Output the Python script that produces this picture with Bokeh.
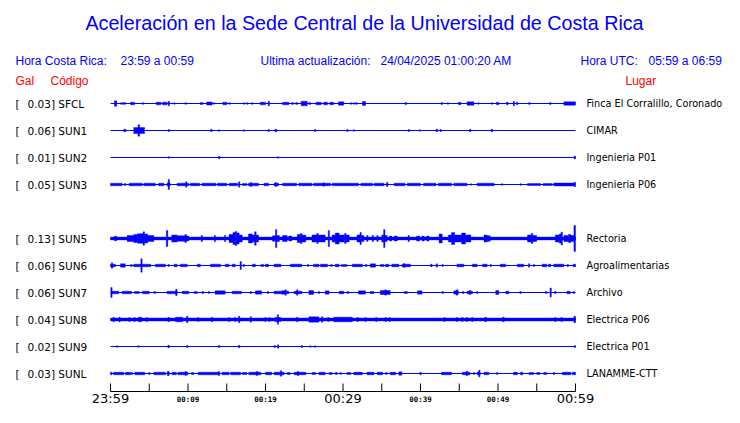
from bokeh.plotting import figure
from bokeh.models import Range1d
from bokeh.core.properties import value
from bokeh.embed import file_html
from bokeh.resources import INLINE

# ---------------- data ----------------
CODES = ["SFCL", "SUN1", "SUN2", "SUN3", "SUN5", "SUN6", "SUN7", "SUN8", "SUN9", "SUNL"]
ROWS = [0, 1, 2, 3, 5, 6, 7, 8, 9, 10]
GAL = [0.03, 0.06, 0.01, 0.05, 0.13, 0.06, 0.06, 0.04, 0.02, 0.03]
PLACES = ["Finca El Corralillo, Coronado", "CIMAR", "Ingenieria P01", "Ingenieria P06",
          "Rectoria", "Agroalimentarias", "Archivo", "Electrica P06", "Electrica P01", "LANAMME-CTT"]

TICK_MINUTES = [0, 5, 10, 15, 20, 25, 30, 35, 40, 45, 50, 55, 60]
BIG_LABELS = {0: "23:59", 30: "00:29", 60: "00:59"}
SMALL_LABELS = {10: "00:09", 20: "00:19", 40: "00:39", 50: "00:49"}

# bursts: (start minute, end minute, relative half amplitude)
SFCL = [(0.5, 0.8, 2.7), (1.3, 2.0, 0.8), (2.6, 3.1, 1.3), (4.1, 4.3, 0.8), (5.9, 6.5, 1.3),
        (6.7, 7.3, 1.3), (7.45, 7.6, 2.3), (8.2, 8.3, 0.8), (9.6, 9.8, 0.8), (11.6, 11.9, 1.0),
        (12.4, 13.1, 1.6), (13.2, 13.4, 0.8), (14.5, 15.0, 1.3), (15.3, 15.4, 0.8), (17.2, 17.3, 0.8),
        (17.6, 17.7, 0.8), (18.2, 18.4, 0.8), (19.3, 20.0, 1.3), (20.35, 20.5, 2.3), (22.2, 23.0, 1.3),
        (23.4, 23.6, 1.0), (23.9, 24.1, 1.0), (24.6, 25.4, 2.3), (25.6, 25.8, 1.0), (26.5, 27.2, 1.3),
        (27.5, 28.0, 1.3), (28.3, 28.8, 1.3), (29.4, 30.1, 1.7), (31.0, 31.1, 0.8), (31.4, 31.5, 0.8),
        (31.7, 31.8, 0.8), (32.5, 32.9, 2.0), (38.0, 38.2, 1.0), (42.7, 42.8, 1.0), (43.5, 43.6, 0.7),
        (44.9, 45.2, 1.3), (46.0, 46.9, 1.7), (47.4, 47.5, 0.7), (49.2, 49.3, 0.8), (49.8, 50.1, 1.3),
        (51.1, 51.3, 1.3), (52.0, 52.1, 2.3), (52.4, 52.5, 1.3), (54.0, 54.1, 1.0), (56.7, 56.8, 1.0),
        (58.5, 60.0, 1.7)]
SUN1 = [(1.7, 2.0, 1.3), (3.0, 4.4, 3.0), (3.55, 3.75, 5.7), (7.45, 7.6, 1.0), (12.95, 13.1, 1.3),
        (13.95, 14.05, 0.7), (17.15, 17.25, 0.7), (20.35, 20.45, 1.0), (21.2, 21.45, 1.3),
        (26.35, 26.45, 1.0), (30.5, 30.65, 1.0), (31.35, 31.45, 0.7), (38.45, 38.55, 1.0),
        (39.85, 39.95, 0.7), (42.0, 42.2, 1.3), (42.55, 42.65, 1.0), (46.35, 46.5, 1.3), (49.1, 49.3, 1.3)]
SUN2 = [(7.45, 7.55, 0.7), (13.95, 14.1, 1.3), (21.55, 21.65, 0.7), (59.85, 60.0, 1.5)]
SUN3 = [(0.0, 1.5, 1.3), (1.8, 2.0, 1.0), (2.4, 4.1, 1.3), (4.3, 5.8, 1.3), (6.2, 6.9, 1.3),
        (7.3, 7.7, 1.6), (7.45, 7.6, 5.0), (8.6, 10.1, 1.3), (9.7, 9.85, 2.7), (10.3, 11.5, 1.3),
        (11.8, 13.6, 1.3), (13.8, 15.0, 1.3), (15.3, 16.4, 1.3), (16.55, 16.65, 2.7), (17.0, 17.6, 1.0),
        (17.8, 19.1, 1.3), (18.05, 18.2, 2.0), (19.8, 20.4, 1.3), (21.1, 21.7, 1.3), (21.25, 21.4, 2.0),
        (22.2, 24.0, 1.3), (24.3, 26.0, 1.3), (26.2, 28.4, 1.3), (27.45, 27.55, 1.7), (28.6, 30.3, 1.3),
        (30.3, 32.0, 1.3), (32.3, 33.8, 1.3), (34.0, 35.3, 1.3), (35.6, 35.8, 2.0), (36.6, 38.0, 1.3),
        (38.3, 40.0, 1.3), (40.4, 42.0, 1.3), (42.3, 44.0, 1.3), (44.3, 46.0, 1.3), (46.5, 46.6, 0.7),
        (47.3, 49.5, 1.3), (50.5, 50.6, 0.8), (52.9, 53.0, 0.8), (53.8, 55.5, 1.0), (55.8, 57.0, 1.0),
        (57.2, 59.9, 1.5), (59.85, 60.0, 2.3)]
SUN5 = [(0.0, 60.0, 1.4), (0.5, 0.8, 2.3), (2.15, 3.0, 3.0), (3.0, 3.5, 4.0), (3.5, 4.2, 4.8),
        (4.2, 4.4, 6.7), (4.4, 4.8, 4.5), (4.8, 5.6, 3.0), (7.2, 7.4, 8.0), (7.9, 8.6, 3.5),
        (8.6, 9.6, 2.8), (9.6, 9.8, 4.0), (9.8, 10.1, 2.5), (11.7, 11.85, 3.0), (13.4, 13.55, 3.0),
        (14.7, 14.85, 3.0), (15.3, 15.8, 4.0), (15.8, 16.1, 6.0), (16.1, 16.3, 7.0), (16.3, 16.6, 5.5),
        (16.6, 17.0, 3.5), (17.8, 18.3, 4.5), (18.3, 18.6, 3.5), (18.6, 18.8, 6.7), (18.8, 19.1, 3.5),
        (20.9, 21.3, 2.8), (21.3, 21.45, 9.0), (21.45, 21.8, 3.0), (22.2, 22.8, 3.0), (23.0, 23.4, 2.5),
        (24.1, 24.5, 4.0), (24.5, 24.7, 5.0), (24.7, 25.2, 3.5), (26.0, 26.6, 3.5), (26.6, 26.8, 5.0),
        (26.8, 27.7, 3.5), (28.1, 28.25, 8.0), (28.6, 29.0, 3.5), (29.0, 29.5, 5.5), (29.5, 30.2, 3.5),
        (30.2, 30.4, 5.0), (30.4, 30.8, 3.5), (31.8, 32.2, 3.5), (32.2, 32.35, 6.0), (32.35, 32.7, 3.0),
        (33.1, 33.2, 3.0), (33.8, 33.9, 3.0), (34.4, 34.5, 3.0), (35.0, 35.25, 3.5), (35.25, 35.4, 9.0),
        (35.4, 35.7, 3.0), (36.0, 36.3, 2.5), (36.6, 37.0, 2.5), (38.4, 38.55, 3.0), (39.5, 39.9, 2.5),
        (40.2, 40.5, 2.5), (40.8, 41.1, 2.5), (42.4, 42.8, 4.5), (43.6, 44.0, 3.5), (44.0, 44.4, 6.0),
        (44.4, 45.3, 3.5), (45.3, 45.8, 5.5), (45.8, 46.5, 3.5), (48.2, 48.6, 3.5), (48.6, 49.0, 2.8),
        (53.8, 54.3, 3.5), (54.3, 54.5, 5.0), (54.5, 55.0, 3.0), (57.4, 57.9, 3.5), (57.9, 58.15, 4.5),
        (58.15, 58.3, 6.5), (58.5, 59.1, 3.0), (59.1, 59.4, 4.0), (59.4, 59.8, 3.0), (59.8, 60.0, 13.0)]
SUN6 = [(0.0, 0.65, 1.3), (0.15, 0.25, 2.7), (1.3, 1.9, 1.7), (2.6, 2.8, 1.0), (3.0, 5.2, 1.3),
        (3.95, 4.05, 6.7), (5.8, 7.1, 1.3), (7.45, 7.55, 1.0), (8.2, 8.6, 1.3), (9.0, 9.9, 1.3),
        (11.2, 11.6, 1.3), (12.9, 14.2, 1.3), (14.8, 15.3, 1.3), (15.7, 16.1, 1.3), (16.75, 16.85, 4.0),
        (17.15, 17.25, 1.0), (18.3, 18.7, 1.3), (19.4, 19.8, 1.0), (20.0, 20.4, 1.3), (21.1, 22.0, 1.3),
        (23.2, 24.7, 1.3), (25.45, 25.55, 1.0), (26.2, 26.9, 1.3), (27.1, 28.0, 1.3), (28.4, 28.6, 1.0),
        (29.0, 29.5, 1.3), (29.8, 30.5, 1.0), (31.2, 32.5, 1.3), (32.9, 33.1, 1.0), (33.5, 34.2, 1.7),
        (34.8, 35.3, 1.0), (35.5, 35.9, 1.3), (36.3, 37.2, 1.3), (37.6, 38.7, 1.3), (37.85, 37.95, 2.0),
        (41.3, 41.5, 1.3), (42.05, 42.15, 1.7), (42.8, 42.9, 1.0), (44.7, 45.6, 1.3), (46.7, 47.3, 1.3),
        (48.0, 48.6, 1.3), (49.0, 49.1, 1.0), (50.3, 50.98, 1.3), (52.5, 53.3, 1.3), (53.95, 54.05, 1.7),
        (54.6, 54.7, 1.0), (55.7, 56.3, 1.3), (56.5, 56.8, 1.3), (57.2, 58.5, 1.3), (58.9, 59.1, 1.0),
        (59.7, 60.0, 1.3)]
SUN7 = [(0.05, 0.2, 5.0), (0.2, 1.07, 1.3), (1.5, 2.7, 1.3), (3.1, 3.7, 1.0), (4.1, 5.0, 1.3),
        (5.6, 5.8, 1.0), (7.3, 8.6, 1.3), (8.45, 8.55, 3.3), (9.25, 10.1, 1.3), (10.8, 11.2, 1.0),
        (11.8, 12.0, 1.0), (12.65, 12.75, 1.0), (13.5, 14.8, 1.7), (15.7, 16.9, 1.3), (18.05, 18.15, 1.0),
        (18.7, 19.5, 1.7), (20.2, 20.4, 1.0), (21.1, 23.0, 1.3), (22.1, 22.6, 1.7), (22.55, 22.65, 2.7),
        (23.7, 24.7, 1.3), (24.05, 24.15, 2.7), (25.6, 26.2, 2.0), (26.85, 26.95, 1.0), (27.7, 28.2, 1.7),
        (29.5, 30.1, 1.3), (30.5, 30.75, 1.0), (32.0, 32.9, 1.7), (33.5, 34.0, 1.0), (34.8, 36.1, 2.0),
        (35.45, 35.55, 2.7), (37.9, 38.3, 1.0), (39.6, 40.2, 1.7), (42.8, 42.9, 1.0), (44.3, 44.9, 1.7),
        (44.65, 44.75, 2.7), (45.4, 45.6, 1.0), (46.0, 46.7, 1.3), (46.35, 46.45, 2.0), (47.25, 47.35, 1.0),
        (49.7, 50.1, 2.0), (51.0, 51.4, 1.3), (52.85, 52.95, 1.0), (56.15, 56.25, 1.0), (56.75, 56.85, 4.5),
        (57.3, 57.5, 1.0), (58.9, 59.3, 1.3), (59.75, 59.85, 1.0)]
SUN8 = [(0.0, 60.0, 1.5), (0.35, 0.45, 2.3), (1.1, 1.25, 2.3), (2.4, 2.5, 2.0), (3.05, 3.15, 2.0),
        (3.6, 4.0, 2.3), (4.65, 4.75, 2.0), (7.45, 7.55, 2.3), (8.4, 9.3, 2.3), (9.85, 9.95, 3.3),
        (11.25, 11.35, 2.0), (13.05, 13.15, 2.3), (15.25, 15.35, 2.0), (16.05, 16.15, 2.0),
        (16.55, 16.65, 3.3), (18.05, 18.15, 2.7), (19.95, 20.05, 2.0), (20.45, 20.55, 2.0),
        (21.2, 22.0, 2.0), (21.55, 21.65, 4.7), (24.05, 24.15, 2.3), (25.6, 26.9, 2.7), (27.25, 27.35, 2.7),
        (28.05, 28.15, 2.0), (28.8, 31.2, 2.3), (31.85, 31.95, 2.0), (32.85, 32.95, 2.0), (34.25, 34.35, 2.0),
        (35.45, 35.55, 2.0), (35.95, 36.05, 2.0), (43.05, 43.15, 2.0), (44.65, 44.75, 2.0),
        (45.35, 45.45, 2.0), (45.95, 46.05, 2.0), (46.65, 46.75, 2.0), (48.3, 48.5, 2.3), (50.6, 50.8, 2.3),
        (57.35, 57.45, 2.0), (58.15, 58.25, 2.0), (59.8, 60.0, 3.3)]
SUN9 = [(0.8, 0.9, 0.7), (3.5, 3.7, 0.7), (7.4, 7.6, 1.3), (9.85, 9.95, 1.0), (13.95, 14.05, 1.0),
        (16.55, 16.65, 1.3), (21.15, 21.25, 1.0), (21.55, 21.7, 1.7), (24.65, 24.75, 1.0),
        (25.75, 25.85, 0.7), (26.35, 26.45, 0.7), (59.85, 60.0, 1.0)]
SUNL = [(0.0, 0.2, 1.3), (0.4, 1.72, 1.3), (1.94, 2.6, 1.3), (2.75, 2.85, 1.0), (3.14, 4.43, 1.3),
        (4.95, 5.05, 1.0), (5.6, 7.1, 1.3), (7.3, 7.6, 1.3), (7.4, 7.5, 2.3), (7.95, 8.5, 1.3),
        (8.7, 10.0, 1.3), (9.65, 9.75, 2.0), (10.45, 10.75, 1.0), (11.3, 14.0, 1.3), (13.95, 14.05, 2.0),
        (14.4, 15.3, 1.3), (15.5, 16.8, 1.3), (17.0, 17.6, 1.0), (17.85, 19.4, 1.3), (18.85, 18.95, 2.0),
        (20.0, 20.8, 1.3), (21.1, 22.4, 1.3), (21.95, 22.05, 2.7), (22.8, 23.2, 1.0), (23.7, 25.2, 1.3),
        (24.15, 24.25, 2.0), (26.0, 26.45, 1.0), (26.9, 27.7, 1.3), (28.2, 28.6, 1.0), (29.0, 29.25, 1.0),
        (29.65, 29.75, 1.0), (30.5, 31.0, 1.0), (31.4, 32.5, 1.3), (33.1, 34.0, 1.3), (34.4, 35.1, 1.3),
        (35.5, 35.7, 1.0), (36.1, 36.8, 1.3), (37.2, 37.6, 1.7), (39.95, 40.05, 1.3), (42.7, 44.0, 1.3),
        (45.4, 46.4, 1.3), (45.95, 46.05, 2.3), (46.85, 46.95, 1.0), (47.3, 47.7, 1.3), (47.55, 47.65, 3.3),
        (48.2, 48.8, 1.3), (49.85, 49.95, 1.0), (52.0, 52.5, 1.3), (52.9, 53.2, 1.3), (54.0, 54.6, 1.0),
        (55.0, 55.4, 1.0), (55.9, 56.3, 1.0), (57.15, 57.25, 1.0), (58.3, 59.4, 1.3), (59.6, 60.0, 1.3)]
BURSTS = [SFCL, SUN1, SUN2, SUN3, SUN5, SUN6, SUN7, SUN8, SUN9, SUNL]

# ---------------- layout ----------------
W, H = 724, 407
X0, PX_MIN = 110.0, 7.75     # px of minute 0, px per minute
Y0, ROW_PX = 103.0, 27.0     # px of first trace, px per row
AMP = 1.0 / ROW_PX           # relative amplitude unit -> rows
MIN_W = 0.17                 # minimum drawn width (minutes)


def tx(px):
    return (px - X0) / PX_MIN


def ty(py):
    return -(py - Y0) / ROW_PX


p = figure(width=W, height=H, output_backend="svg", toolbar_location=None,
           x_range=Range1d(tx(0), tx(W)), y_range=Range1d(ty(H), ty(0)),
           x_axis_location=None, y_axis_location=None, min_border=0)
p.grid.grid_line_color = None
p.outline_line_color = None
p.background_fill_color = "white"
p.border_fill_color = "white"

BLUE = "#0000FF"

# traces
for row, bursts in zip(ROWS, BURSTS):
    yc = -row
    p.line(x=[0, 60], y=[yc, yc], line_color=BLUE, line_width=1.2)
    left, right, bot, top = [], [], [], []
    for t0, t1, a in bursts:
        if t1 - t0 < MIN_W:
            c = (t0 + t1) / 2
            t0, t1 = c - MIN_W / 2, c + MIN_W / 2
        left.append(max(t0, 0))
        right.append(min(t1, 60.05))
        bot.append(yc - a * AMP)
        top.append(yc + a * AMP)
    p.quad(left=left, right=right, bottom=bot, top=top, fill_color=BLUE,
           line_color=BLUE, line_width=0.4)


def txt(x, y, s, size, color, font="Liberation Sans", align="left", baseline="middle",
        style="normal"):
    p.text(x=[tx(x)], y=[ty(y)], text=[s], text_font=value(font), text_font_size=size,
           text_color=color, text_align=align, text_baseline=baseline, text_font_style=style)


# title and headers
txt(364, 22, "Aceleración en la Sede Central de la Universidad de Costa Rica", "19.7px", BLUE,
    align="center")
txt(15, 60, "Hora Costa Rica:", "12px", BLUE)
txt(120, 60, "23:59 a 00:59", "12px", BLUE)
txt(260, 60, "Ultima actualización:", "12px", BLUE)
txt(380, 60, "24/04/2025 01:00:20 AM", "12px", BLUE)
txt(580, 60, "Hora UTC:", "12px", BLUE)
txt(648, 60, "05:59 a 06:59", "12px", BLUE)
txt(15, 80, "Gal", "12px", "#FF0000")
txt(50, 80, "Código", "12px", "#FF0000")
txt(625, 80, "Lugar", "12px", "#FF0000")

# station labels
for row, code, g, place in zip(ROWS, CODES, GAL, PLACES):
    yp = Y0 + row * ROW_PX
    txt(15, yp, "[", "10.5px", "#000000", font="DejaVu Sans")
    txt(27, yp, f"{g:.2f}] {code}", "10.5px", "#000000", font="DejaVu Sans")
    txt(586, yp, place, "9.7px", "#000000", font="DejaVu Sans")

# time axis (squeezed slightly to fit the canvas)
AX_Y = 391
p.line(x=[0, 60], y=[ty(AX_Y), ty(AX_Y)], line_color="#000000", line_width=1)
p.segment(x0=TICK_MINUTES, x1=TICK_MINUTES, y0=[ty(AX_Y)] * len(TICK_MINUTES),
          y1=[ty(AX_Y - 8)] * len(TICK_MINUTES), line_color="#000000", line_width=1)
for m, lab in BIG_LABELS.items():
    p.text(x=[m], y=[ty(405.5)], text=[lab], text_font=value("DejaVu Sans"), text_font_size="13px",
           text_color="#000000", text_align="center", text_baseline="bottom")
for m, lab in SMALL_LABELS.items():
    p.text(x=[m], y=[ty(403)], text=[lab], text_font=value("DejaVu Sans Mono"),
           text_font_size="7.5px", text_color="#000000", text_align="center",
           text_baseline="bottom", text_font_style="bold")

open("out.html", "w").write(file_html(p, INLINE))
